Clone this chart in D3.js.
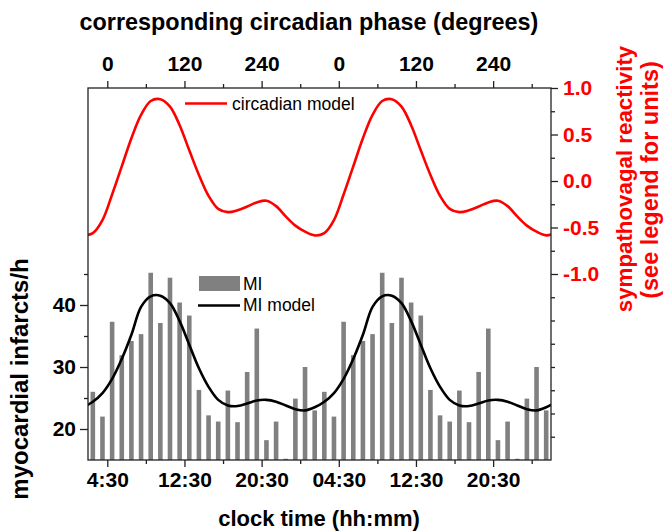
<!DOCTYPE html>
<html>
<head>
<meta charset="utf-8">
<script src="https://cdn.jsdelivr.net/npm/d3@7/dist/d3.min.js"></script>
<style>
	body { margin: 0; background: #fff; }
	svg { display: block; font-family: "Liberation Sans", Arial, sans-serif; }
	.axis text { font-family: "Liberation Sans", Arial, sans-serif; font-weight: bold; font-size: 21px; fill: #000; }
	.axis line { stroke: #222; stroke-width: 1.3; }
	.axis path { display: none; }
	.right-axis text { fill: #ff0000; }
</style>
</head>
<body>
<div id="chart"></div>
<script>
// hourly infarct counts, two identical days plotted side by side
var barHours = [3, 4, 5, 6, 7, 8, 9, 10, 11, 12, 13, 14, 15, 16, 17, 18, 19, 20, 21, 22, 23, 24, 25, 26,
	27, 28, 29, 30, 31, 32, 33, 34, 35, 36, 37, 38, 39, 40, 41, 42, 43, 44, 45, 46, 47, 48, 49, 50];
var infarcts = [26.0, 22.0, 37.3, 31.9, 34.2, 35.3, 45.2, 37.1, 44.4, 40.4, 38.3, 26.3, 22.2, 21.2, 26.2, 21.1, 29.2, 36.2, 18.2, 21.2, 15.2, 24.9, 30.0, 23.0,
	26.0, 22.0, 37.3, 31.9, 34.2, 35.3, 45.2, 37.1, 44.4, 40.4, 38.3, 26.3, 22.2, 21.2, 26.2, 21.1, 29.2, 36.2, 18.2, 21.2, 15.2, 24.9, 30.0, 23.0];

// model curves sampled once per hour
var modelHours = [2, 3, 4, 5, 6, 7, 8, 9, 10, 11, 12, 13, 14, 15, 16, 17, 18, 19, 20, 21, 22, 23, 24, 25,
	26, 27, 28, 29, 30, 31, 32, 33, 34, 35, 36, 37, 38, 39, 40, 41, 42, 43, 44, 45, 46, 47, 48, 49, 50, 51];
var miModel = [23.5, 24.4, 25.8, 28.1, 31.3, 35.2, 39.7, 41.4, 41.5, 40.3, 37.4, 33.6, 29.8, 26.8, 24.7, 23.8, 23.7, 24.1, 24.6, 24.7, 24.4, 23.8, 23.2, 23.0,
	23.5, 24.4, 25.8, 28.1, 31.3, 35.2, 39.7, 41.4, 41.5, 40.3, 37.4, 33.6, 29.8, 26.8, 24.7, 23.8, 23.7, 24.1, 24.6, 24.7, 24.4, 23.8, 23.2, 23.0,
	23.5, 24.4];
var circadianModel = [-0.585, -0.56, -0.42, -0.145, 0.157, 0.46, 0.71, 0.86, 0.88, 0.80, 0.60, 0.33, 0.065, -0.16, -0.30, -0.335, -0.315, -0.275, -0.23, -0.212, -0.27, -0.38, -0.48, -0.545,
	-0.585, -0.56, -0.42, -0.145, 0.157, 0.46, 0.71, 0.86, 0.88, 0.80, 0.60, 0.33, 0.065, -0.16, -0.30, -0.335, -0.315, -0.275, -0.23, -0.212, -0.27, -0.38, -0.48, -0.545,
	-0.585, -0.56];

var clockTicks = [4.5, 12.5, 20.5, 28.5, 36.5, 44.5];
var clockLabels = ["4:30", "12:30", "20:30", "04:30", "12:30", "20:30"];
var clockMinor = [8.5, 16.5, 24.5, 32.5, 40.5, 48.5];
var phaseTicks = [0, 120, 240, 360, 480, 600];
var phaseLabels = ["0", "120", "240", "0", "120", "240"];
var phaseMinor = [60, 180, 300, 420, 540, 660];
var miTicks = [20, 30, 40];
var miMinor = [25, 35, 45];
var svTicks = [1.0, 0.5, 0.0, -0.5, -1.0];
var svMinor = [0.75, 0.25, -0.25, -0.75, -1.25, -1.5, -1.75, -2.0, -2.25, -2.5, -2.75];

var width = 664, height = 531;
var plotLeft = 88, plotRight = 551, plotTop = 88, plotBottom = 460;

var svg = d3.select("#chart").append("svg")
	.attr("width", width)
	.attr("height", height);

var x = d3.scaleLinear().domain([2.5, 50.5]).range([plotLeft, plotRight]);
var phase = d3.scaleLinear().domain([-30, 690]).range([plotLeft, plotRight]);
var yMI = d3.scaleLinear().domain([15, 75]).range([plotBottom, plotTop]);
var ySV = d3.scaleLinear().domain([-3, 1]).range([plotBottom, plotTop]);

svg.append("clipPath").attr("id", "plot-clip")
	.append("rect")
	.attr("x", plotLeft).attr("y", plotTop)
	.attr("width", plotRight - plotLeft).attr("height", plotBottom - plotTop);

var plot = svg.append("g").attr("clip-path", "url(#plot-clip)");

// bars
var barWidth = 4.6;
plot.selectAll(".bar").data(barHours).enter().append("rect")
	.attr("class", "bar")
	.attr("fill", "#808080")
	.attr("x", function(d) { return x(d) - barWidth / 2; })
	.attr("width", barWidth)
	.attr("y", function(d, i) { return yMI(infarcts[i]); })
	.attr("height", function(d, i) { return plotBottom - yMI(infarcts[i]); });

var miLine = d3.line()
	.curve(d3.curveCatmullRom)
	.x(function(d, i) { return x(modelHours[i]); })
	.y(function(d) { return yMI(d); });

var svLine = d3.line()
	.curve(d3.curveCatmullRom)
	.x(function(d, i) { return x(modelHours[i]); })
	.y(function(d) { return ySV(d); });

plot.append("path")
	.attr("fill", "none")
	.attr("stroke", "#000")
	.attr("stroke-width", 2.6)
	.attr("d", miLine(miModel));

plot.append("path")
	.attr("fill", "none")
	.attr("stroke", "#ff0000")
	.attr("stroke-width", 2.6)
	.attr("d", svLine(circadianModel));

// frame
svg.append("rect")
	.attr("x", plotLeft).attr("y", plotTop)
	.attr("width", plotRight - plotLeft).attr("height", plotBottom - plotTop)
	.attr("fill", "none")
	.attr("stroke", "#222")
	.attr("stroke-width", 1.3);

// axes
function addAxis(axis, cls, transform) {
	return svg.append("g")
		.attr("class", "axis " + (cls || ""))
		.attr("transform", transform)
		.call(axis);
}

addAxis(d3.axisBottom(x).tickValues(clockTicks).tickSize(7).tickPadding(5)
	.tickFormat(function(d, i) { return clockLabels[i]; }), "", "translate(0," + plotBottom + ")");
addAxis(d3.axisBottom(x).tickValues(clockMinor).tickSize(4).tickFormat(""), "", "translate(0," + plotBottom + ")");

addAxis(d3.axisTop(phase).tickValues(phaseTicks).tickSize(7).tickPadding(10)
	.tickFormat(function(d, i) { return phaseLabels[i]; }), "", "translate(0," + plotTop + ")");
addAxis(d3.axisTop(phase).tickValues(phaseMinor).tickSize(4).tickFormat(""), "", "translate(0," + plotTop + ")");

addAxis(d3.axisLeft(yMI).tickValues(miTicks).tickSize(8).tickPadding(4)
	.tickFormat(d3.format("d")), "", "translate(" + plotLeft + ",0)");
addAxis(d3.axisLeft(yMI).tickValues(miMinor).tickSize(4).tickFormat(""), "", "translate(" + plotLeft + ",0)");

addAxis(d3.axisRight(ySV).tickValues(svTicks).tickSize(7).tickPadding(5)
	.tickFormat(d3.format(".1f")), "right-axis", "translate(" + plotRight + ",0)");
addAxis(d3.axisRight(ySV).tickValues(svMinor).tickSize(4).tickFormat(""), "right-axis", "translate(" + plotRight + ",0)");

// minus sign as plain hyphen like the original
svg.selectAll(".right-axis text").text(function() { return d3.select(this).text().replace("\u2212", "-"); });

// titles
svg.append("text")
	.attr("x", 309).attr("y", 30)
	.attr("text-anchor", "middle")
	.attr("font-weight", "bold").attr("font-size", 23.4)
	.text("corresponding circadian phase (degrees)");

svg.append("text")
	.attr("x", 319).attr("y", 526)
	.attr("text-anchor", "middle")
	.attr("font-weight", "bold").attr("font-size", 22)
	.text("clock time (hh:mm)");

svg.append("text")
	.attr("transform", "translate(28,379) rotate(-90)")
	.attr("text-anchor", "middle")
	.attr("font-weight", "bold").attr("font-size", 24)
	.text("myocardial infarcts/h");

svg.append("text")
	.attr("transform", "translate(632,179) rotate(-90)")
	.attr("text-anchor", "middle")
	.attr("fill", "#ff0000")
	.attr("font-weight", "bold").attr("font-size", 22.3)
	.text("sympathovagal reactivity");

svg.append("text")
	.attr("transform", "translate(658,180) rotate(-90)")
	.attr("text-anchor", "middle")
	.attr("fill", "#ff0000")
	.attr("font-weight", "bold").attr("font-size", 23.5)
	.text("(see legend for units)");

// legends
var legend = svg.append("g").attr("font-size", 17.5);

legend.append("line")
	.attr("x1", 185).attr("x2", 227).attr("y1", 103.5).attr("y2", 103.5)
	.attr("stroke", "#ff0000").attr("stroke-width", 2.6);
legend.append("text").attr("x", 232).attr("y", 110).text("circadian model");

legend.append("rect")
	.attr("x", 199).attr("y", 276).attr("width", 41).attr("height", 15)
	.attr("fill", "#808080");
legend.append("text").attr("x", 243).attr("y", 290).text("MI");

legend.append("line")
	.attr("x1", 198).attr("x2", 240).attr("y1", 305.5).attr("y2", 305.5)
	.attr("stroke", "#000").attr("stroke-width", 2.6);
legend.append("text").attr("x", 243).attr("y", 311).text("MI model");
</script>
</body>
</html>
